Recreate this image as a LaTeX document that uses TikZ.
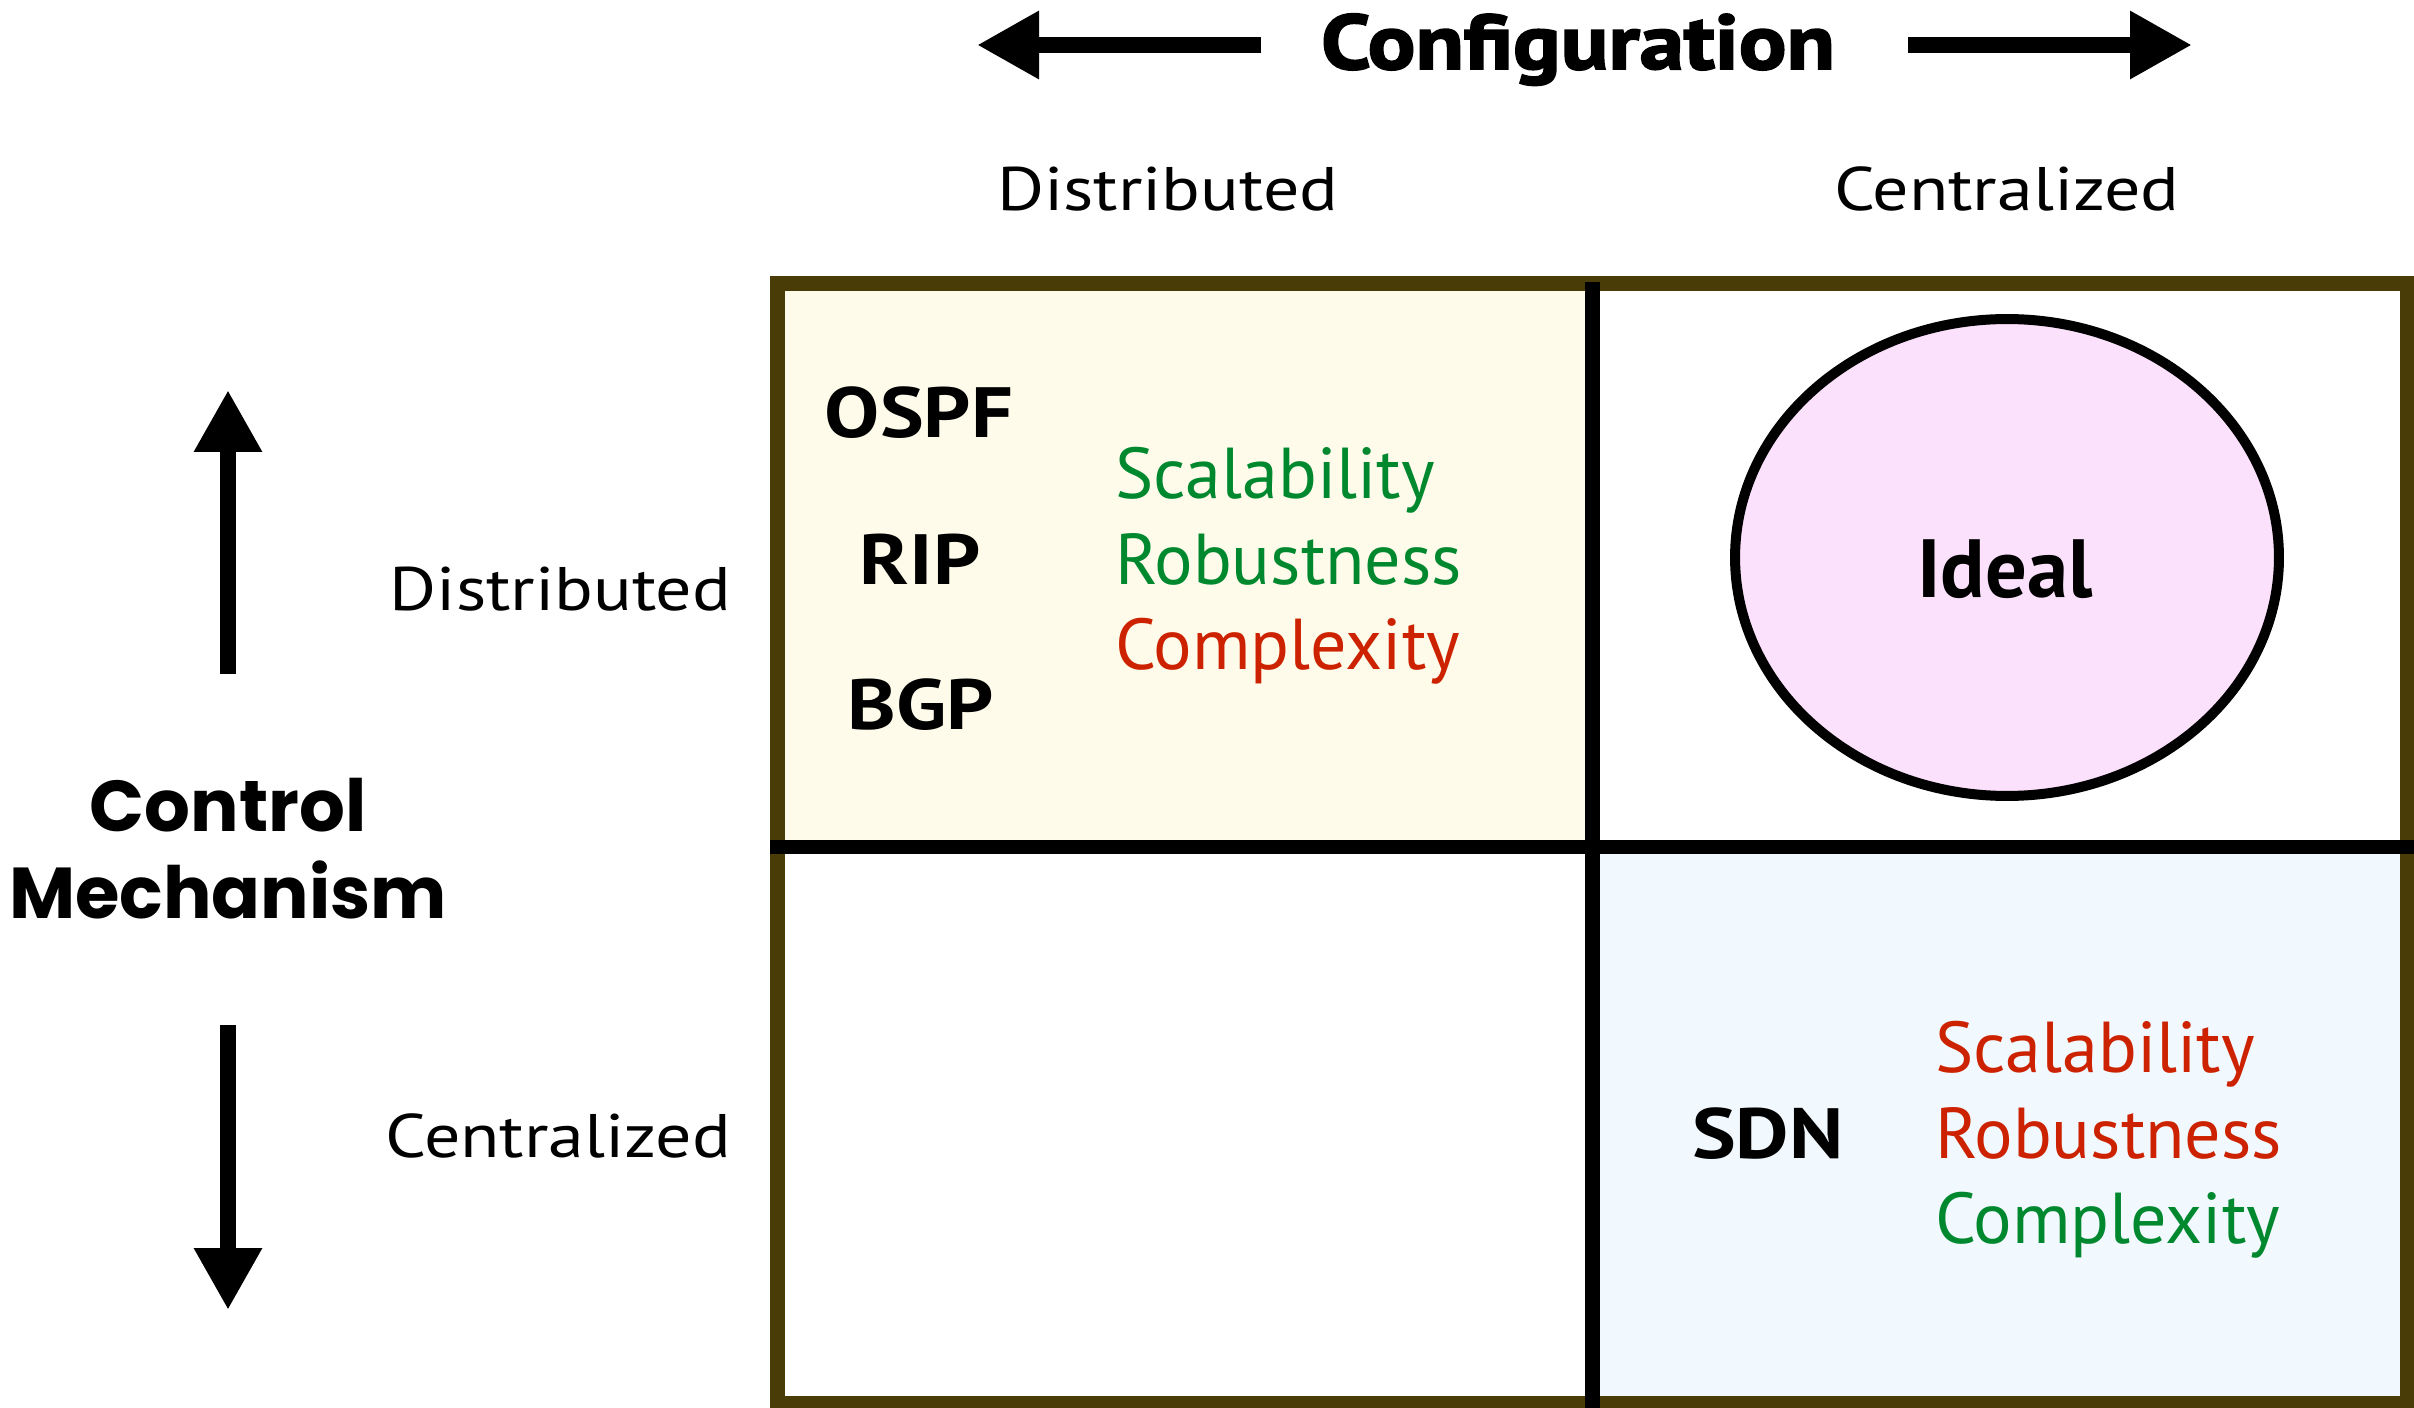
\documentclass[tikz,border=0pt]{standalone}
\usepackage{fontspec}
\setmainfont{PT Sans}
\newfontfamily\widefont{Poppins}
\newfontfamily\heavyfont{PT Sans Bold}[FakeBold=2.5,FakeStretch=1.15]
\newfontfamily\labelfont{PT Sans}[FakeStretch=1.17]
\newfontfamily\protofont{PT Sans Bold}[FakeStretch=1.16]
\usetikzlibrary{arrows.meta,shapes.geometric}

\definecolor{frameolive}{HTML}{4A3C06}
\definecolor{creamfill}{HTML}{FEFBEA}
\definecolor{skyfill}{HTML}{F1F8FE}
\definecolor{pinkfill}{HTML}{FBE1FC}
\definecolor{plusgreen}{HTML}{00882F}
\definecolor{minusred}{HTML}{CC2200}

\begin{document}
\begin{tikzpicture}[x=0.02cm,y=-0.02cm,
  every node/.style={inner sep=0pt, outer sep=0pt},
  axislabel/.style={font=\labelfont\fontsize{35pt}{42pt}\selectfont},
  protocol/.style={font=\protofont\fontsize{40.5pt}{48pt}\selectfont, anchor=base},
  trait/.style={font=\fontsize{41pt}{48pt}\selectfont, anchor=base west},
  bigarrow/.style={line width=0.32cm, -{Triangle[length=1.24cm,width=1.28cm]}},
  divider/.style={line width=0.3cm, black},
  headline/.style={anchor=base, font=\widefont\bfseries\fontsize{41pt}{48pt}\selectfont},
]
\useasboundingbox (0,0) rectangle (2414,1408);

% quadrant fills and frame
\fill[creamfill] (777,284) rectangle (1592,847);
\fill[skyfill] (1592,847) rectangle (2407,1403);
\draw[frameolive, line width=0.3cm] (777,284) rectangle (2407,1403);

% quadrant dividers
\coordinate (hdivL) at (770,847);
\coordinate (hdivR) at (2414,847);
\coordinate (vdivT) at (1592,282);
\coordinate (vdivB) at (1592,1408);
\draw[divider] (hdivL) -- (hdivR);
\draw[divider] (vdivT) -- (vdivB);

% ideal quadrant
\node[ellipse, draw=black, line width=0.2cm, fill=pinkfill,
      minimum width=10.88cm, minimum height=9.54cm] (ideal) at (2007,557.5) {};
\node[anchor=base, font=\bfseries\fontsize{47pt}{54pt}\selectfont] (idealtext) at (2005,598) {Ideal};

% configuration axis
\node[anchor=base, font=\heavyfont\fontsize{44pt}{50pt}\selectfont] (cfg) at (1578,69) {Configuration};
\coordinate (cfgLtail) at (1261,45);
\coordinate (cfgLtip) at (977,45);
\coordinate (cfgRtail) at (1908,45);
\coordinate (cfgRtip) at (2192,45);
\draw[bigarrow] (cfgLtail) -- (cfgLtip);
\draw[bigarrow] (cfgRtail) -- (cfgRtip);
\node[axislabel, anchor=base west] (topdist) at (997,211) {Distributed};
\node[axislabel, anchor=base west] (topcent) at (1834,211) {Centralized};

% control axis
\node[headline] (ctl1) at (228,831) {Control};
\node[headline] (ctl2) at (228,918) {Mechanism};
\coordinate (ctlUtail) at (228,674);
\coordinate (ctlUtip) at (228,390);
\coordinate (ctlDtail) at (228,1025);
\coordinate (ctlDtip) at (228,1310);
\draw[bigarrow] (ctlUtail) -- (ctlUtip);
\draw[bigarrow] (ctlDtail) -- (ctlDtip);
\node[axislabel, anchor=base east] (sidedist) at (731,611) {Distributed};
\node[axislabel, anchor=base east] (sidecent) at (731,1157) {Centralized};

% distributed / distributed quadrant
\node[protocol] (ospf) at (919,438) {OSPF};
\node[protocol] (rip) at (920,585) {RIP};
\node[protocol] (bgp) at (921,729) {BGP};
\node[trait, text=plusgreen] (dscal) at (1115,499) {Scalability};
\node[trait, text=plusgreen] (drob) at (1115,585) {Robustness};
\node[trait, text=minusred] (dcomp) at (1115,670) {Complexity};

% centralized / centralized quadrant
\node[protocol, anchor=base west] (sdn) at (1692,1158) {SDN};
\node[trait, text=minusred] (cscal) at (1935,1072) {Scalability};
\node[trait, text=minusred] (crob) at (1935,1158) {Robustness};
\node[trait, text=plusgreen] (ccomp) at (1935,1243) {Complexity};
\end{tikzpicture}
\end{document}
